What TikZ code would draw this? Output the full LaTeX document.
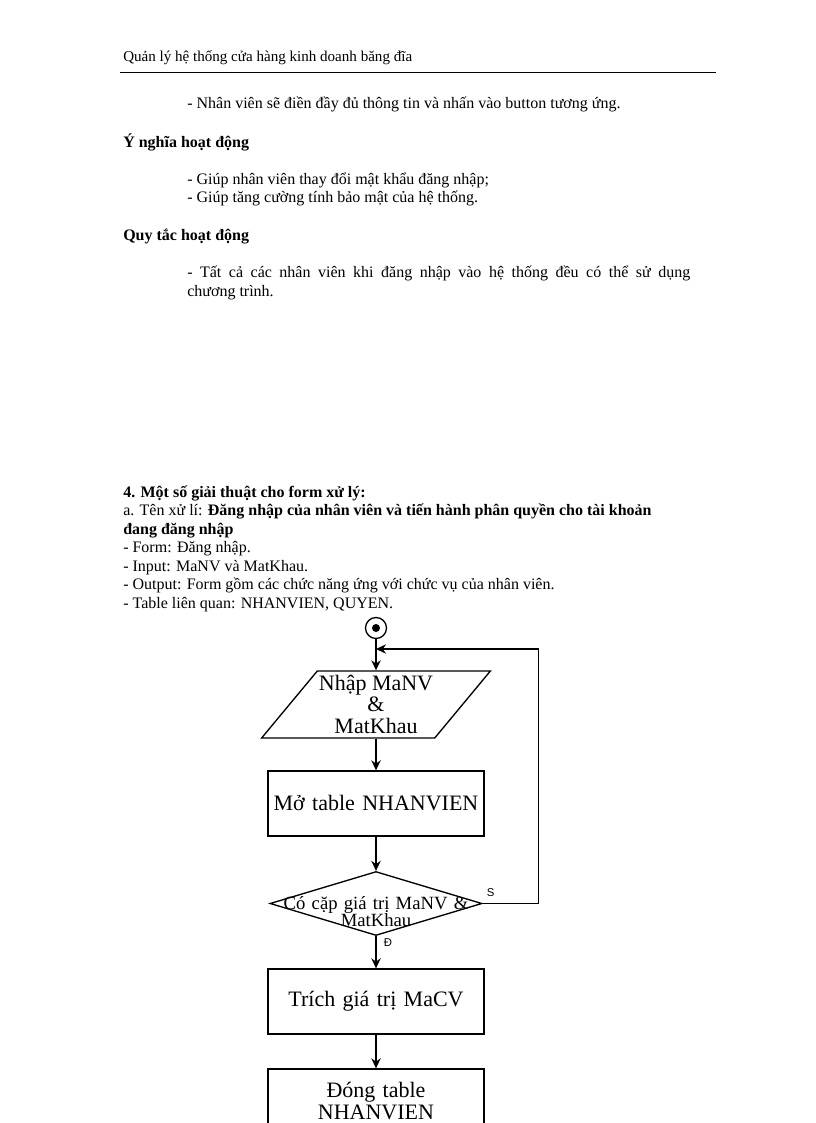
\documentclass[tikz,border=0pt]{standalone}
\usepackage{fontspec}
\setmainfont{Liberation Serif}
\newfontfamily\nhansans{Liberation Sans}
\usepackage{tikz}
\usetikzlibrary{shapes.geometric, arrows.meta, calc}
\tikzset{
  % --- Van ban trang ----------------------------------------
  dong/.style={anchor=base west, inner sep=0pt, font=\fontsize{12}{14}\selectfont},
  dongb/.style={dong, font=\fontsize{12}{14}\selectfont\bfseries},
  % --- Luu do -----------------------------------------------
  proc/.style={draw, line width=1pt, fill=white, minimum width=162pt,
    minimum height=48.75pt, text width=160pt, align=center, inner sep=0pt,
    font=\fontsize{16.5}{16.5}\selectfont},
  io/.style={draw, trapezium, trapezium left angle=62.4,
    trapezium right angle=117.6, trapezium stretches=true,
    line width=1pt, minimum width=171.75pt, minimum height=50.25pt,
    inner sep=0pt},
  iotxt/.style={anchor=base, inner sep=0pt, font=\fontsize{16.5}{16}\selectfont},
  dec/.style={draw, diamond, line width=1pt, minimum width=159pt,
    minimum height=48pt, inner sep=0pt},
  dectxt/.style={text width=150pt, align=center, inner sep=0pt,
    font=\fontsize{14}{12.75}\selectfont},
  batdau/.style={draw, circle, line width=1pt, minimum size=15.75pt, inner sep=0pt},
  cham/.style={circle, fill=black, minimum size=6pt, inner sep=0pt},
  nhan/.style={inner sep=0pt, font=\nhansans\fontsize{8.5}{9}\selectfont},
  fl/.style={->, >={Stealth[length=7.5pt, width=7pt]}, line width=1pt}
}
\begin{document}
\begin{tikzpicture}[x=0.75pt, y=-0.75pt]

  \useasboundingbox (0,0) rectangle (816,1123);
  \fill[white] (0,0) rectangle (816,1123);
  \clip (0,0) rectangle (816,1123);

  % --- Dau trang ------------------------------------------------------
  \node[dong, font=\fontsize{11.3}{13}\selectfont] (tieude) at (123,62) {Quản lý hệ thống cửa hàng kinh doanh băng đĩa};
  \draw[line width=0.6pt] (120,72) -- (716,72);

  % --- Phan mo ta ------------------------------------------------------
  \node[dong] (m1) at (187,109) {- Nhân viên sẽ điền đầy đủ thông tin và nhấn vào button tương ứng.};
  \node[dongb] (ynghia) at (123,148) {Ý nghĩa hoạt động};
  \node[dong] (m2) at (187,185) {- Giúp nhân viên thay đổi mật khẩu đăng nhập;};
  \node[dong] (m3) at (187,203) {- Giúp tăng cường tính bảo mật của hệ thống.};
  \node[dongb] (quytac) at (123,240) {Quy tắc hoạt động};
  \node[dong, text width=377.25pt, align=justify, font=\fontsize{12}{14.25}\selectfont] (m4) at (187,277)
    {- Tất cả các nhân viên khi đăng nhập vào hệ thống đều có thể sử dụng\linebreak chương trình.};

  % --- Muc 4 -----------------------------------------------------------
  \node[dongb] (muc4) at (123,497) {4. Một số giải thuật cho form xử lý:};
  \node[dong] (a1) at (123,515.5) {a. Tên xử lí: \textbf{Đăng nhập của nhân viên và tiến hành phân quyền cho tài khoản}};
  \node[dongb] (a2) at (123,534) {đang đăng nhập};
  \node[dong] (a3) at (123,552.5) {- Form: Đăng nhập.};
  \node[dong] (a4) at (123,571) {- Input: MaNV và MatKhau.};
  \node[dong] (a5) at (123,589.5) {- Output: Form gồm các chức năng ứng với chức vụ của nhân viên.};
  \node[dong] (a6) at (123,608) {- Table liên quan: NHANVIEN, QUYEN.};

  % --- Luu do dang nhap -------------------------------------------------
  \node[batdau] (start) at (376,628) {};
  \node[cham] (startdot) at (start) {};
  \node[io] (P) at (376,704.5) {\phantom{X}};
  \node[iotxt] (Pt1) at (376,690) {Nhập MaNV};
  \node[iotxt] (Pt2) at (376,711.5) {\&};
  \node[iotxt] (Pt3) at (376,733) {MatKhau};
  \node[proc] (R1) at (376,803.5) {Mở table NHANVIEN};
  \node[dec] (D) at (376,903.5) {};
  \node[dectxt] (Dt) at ([yshift=-6pt]D.center) {Có cặp giá trị MaNV \&\\MatKhau};
  \node[proc] (R2) at (376,1001.5) {Trích giá trị MaCV};
  \node[proc] (R3) at (376,1101.5) {Đóng table\\NHANVIEN};
  \coordinate (merge) at (376,649);

  \draw[fl] (start) -- (start |- P.north);
  \draw[fl] (start |- P.south) -- (R1);
  \draw[fl] (R1) -- (D);
  \draw[fl] (D) -- (R2);
  \draw[fl] (R2) -- (R3);
  \draw[fl] (D.east) -- ++(56,0) |- (merge);

  \node[nhan] (lS) at ([xshift=6pt, yshift=7.9pt]D.east) {S};
  \node[nhan] (lD) at ([xshift=9pt, yshift=-4.5pt]D.south) {Đ};

\end{tikzpicture}
\end{document}
